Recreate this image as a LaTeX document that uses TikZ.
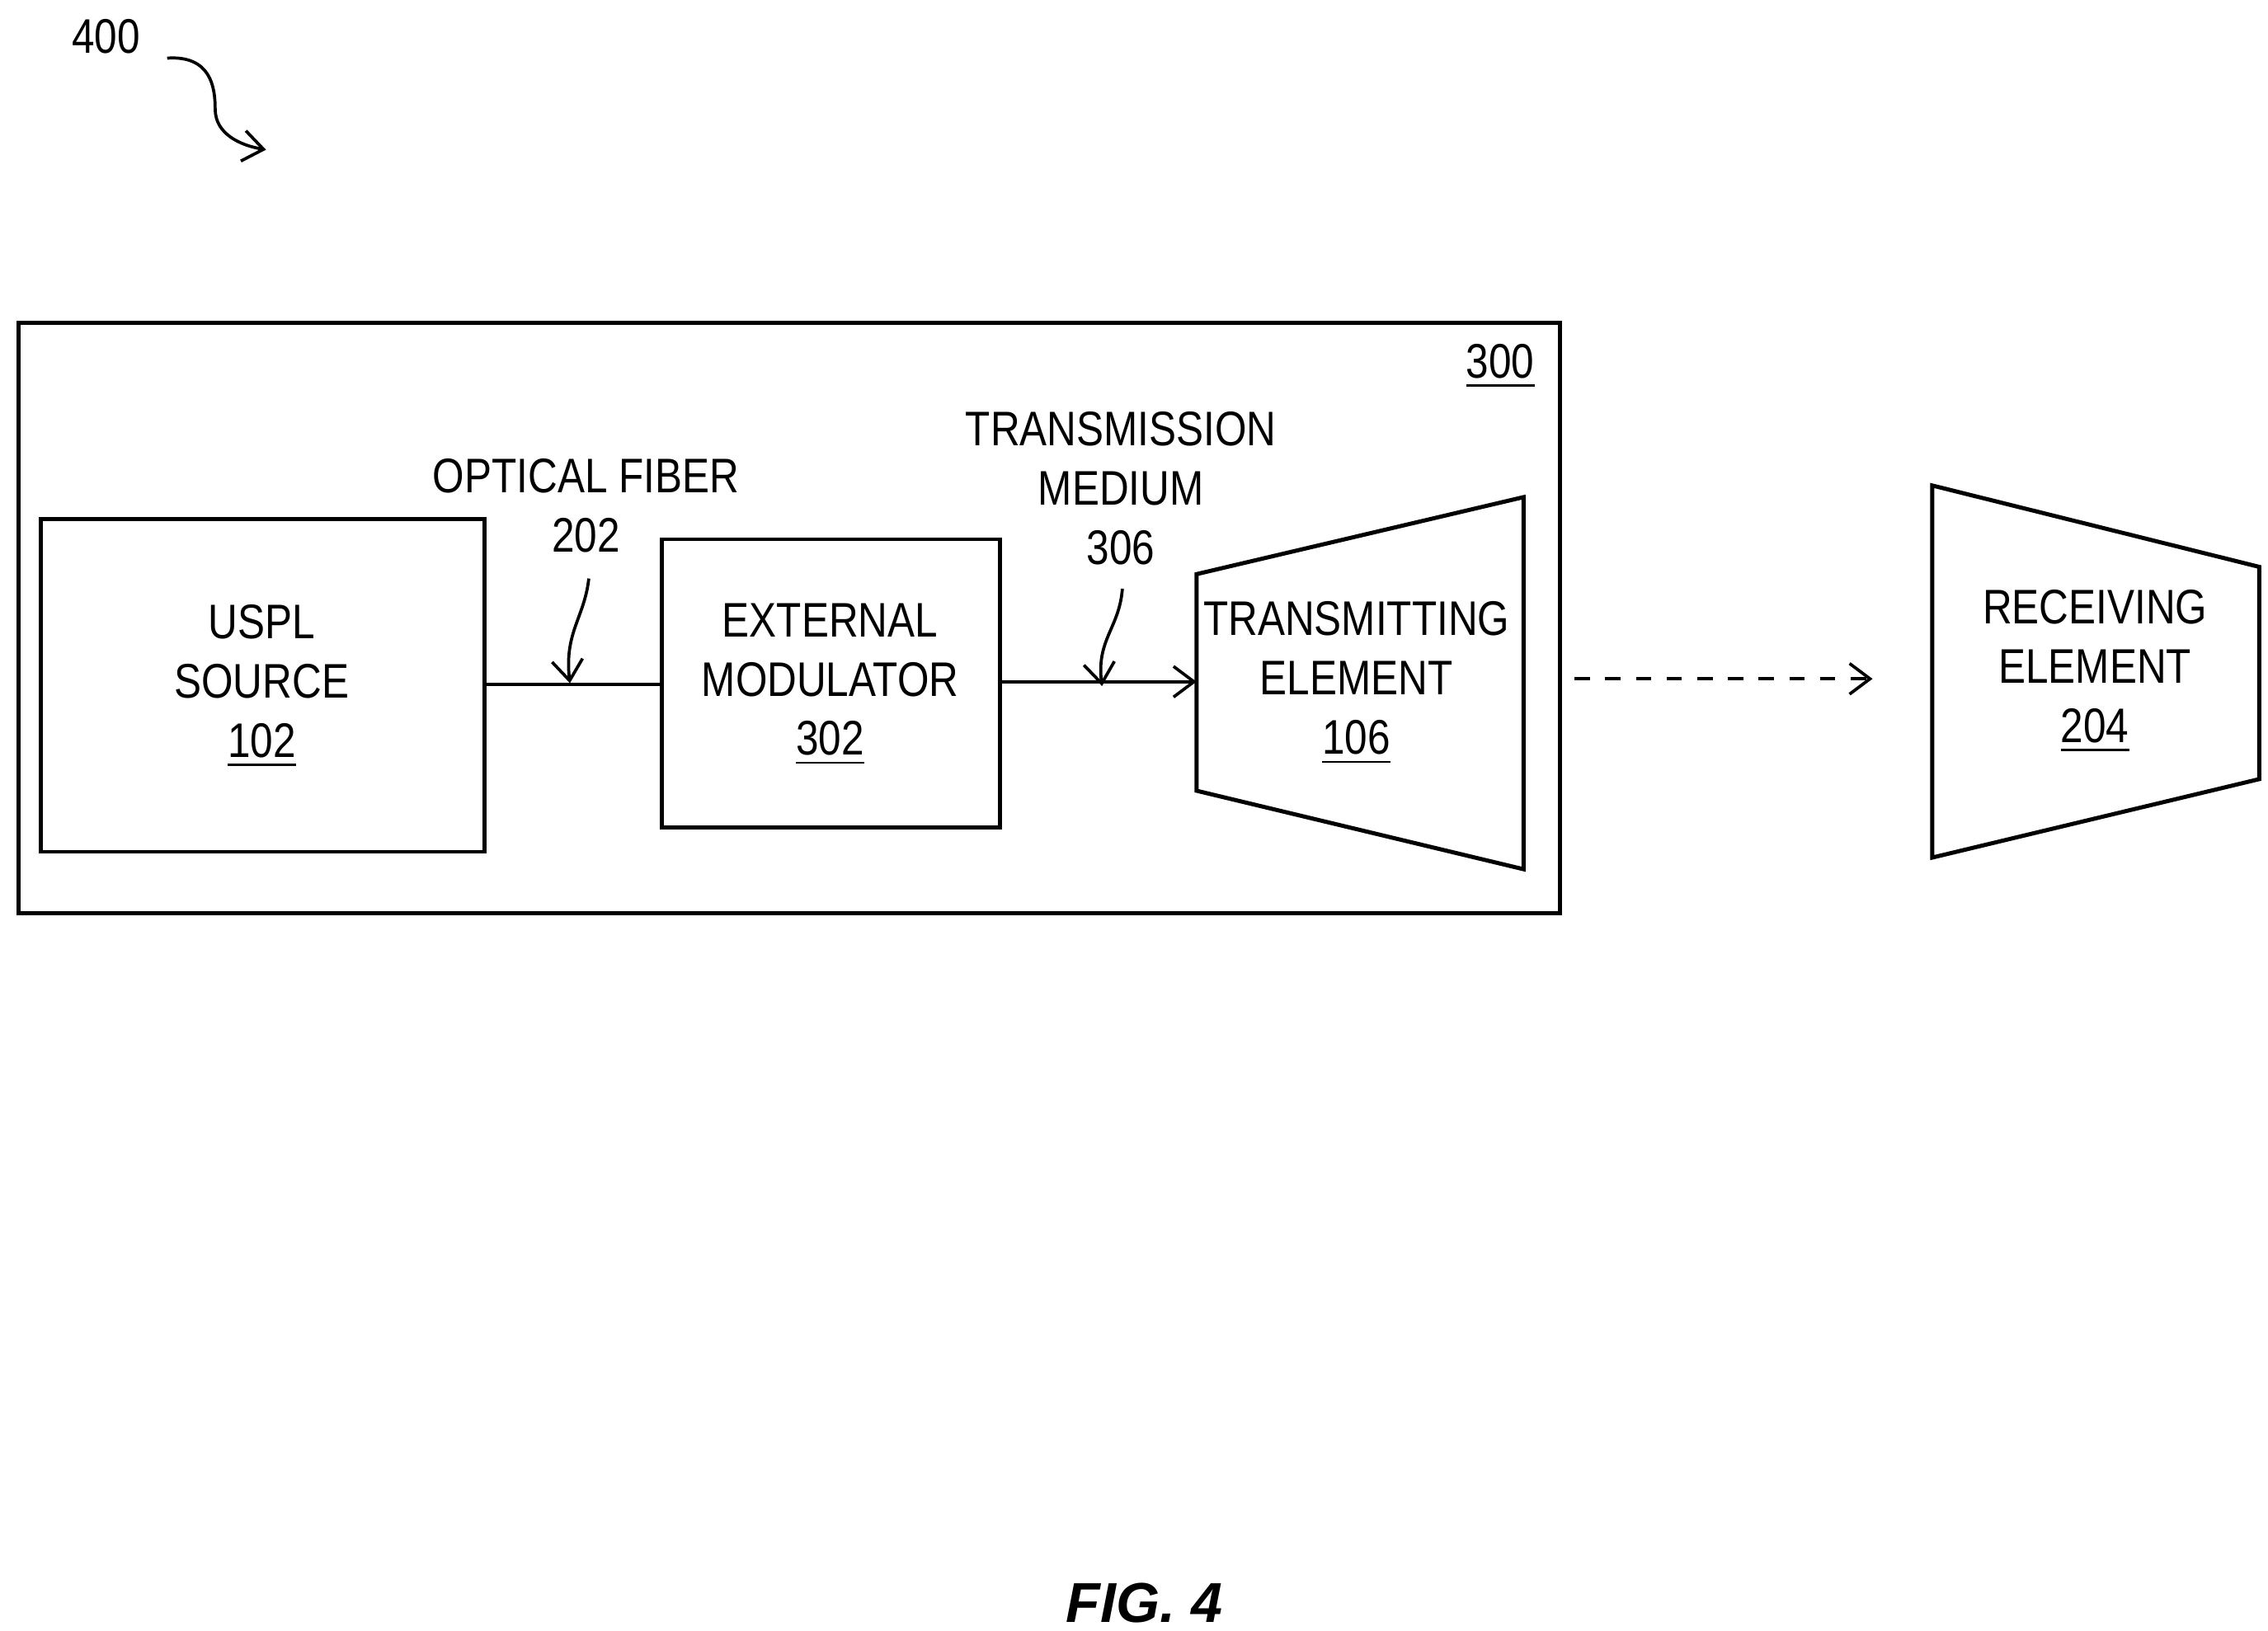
\documentclass[tikz,border=0pt]{standalone}
\usepackage{fontspec}
\setmainfont{Liberation Sans}
\newfontfamily\narrowfont[FakeStretch=0.84]{Liberation Sans}
\usetikzlibrary{arrows.meta}
\begin{document}
\begin{tikzpicture}[x=0.01cm,y=-0.01cm]
  \tikzset{BoxStyle/.style = {
    draw          = black,
    line width    = 0.8pt,
    inner sep     = 0pt
    }
  }
  \tikzset{TextStyle/.style = {
    font          = \narrowfont\fontsize{9.5}{11.6}\selectfont,
    align         = center,
    inner sep     = 1pt
    }
  }
  \tikzset{LinkStyle/.style = {
    draw          = black,
    line width    = 0.6pt
    }
  }
  \tikzset{PointerStyle/.style = {
    draw          = black,
    line width    = 0.6pt,
    -{Straight Barb[length=4pt,width=6pt]}
    }
  }
  \useasboundingbox (0,0) rectangle (1560,1122);

  % outer system 300
  \draw[BoxStyle] (13,222) rectangle (1073,628);
  \node[TextStyle](L300) at (1032,252) {\underline{300}};

  % blocks
  \draw[BoxStyle] (28,357) rectangle (333,586);
  \coordinate (src-e) at (333,471);
  \node[TextStyle](srcT) at (180,472) {USPL\\SOURCE\\\underline{102}};

  \draw[BoxStyle] (455,371) rectangle (688,569);
  \coordinate (mod-w) at (455,471);
  \coordinate (mod-e) at (688,469);
  \node[TextStyle](modT) at (571,471) {EXTERNAL\\MODULATOR\\\underline{302}};

  \coordinate (te-w) at (823,469);
  \draw[BoxStyle] (823,395) -- (1048,342) -- (1048,598) -- (823,544) -- cycle;
  \node[TextStyle](teT) at (933,470) {TRANSMITTING\\ELEMENT\\\underline{106}};

  \draw[BoxStyle] (1329,334) -- (1554,390) -- (1554,536) -- (1329,590) -- cycle;
  \node[TextStyle](reT) at (1441,462) {RECEIVING\\ELEMENT\\\underline{204}};

  % links
  \draw[LinkStyle] (src-e) -- (mod-w);
  \draw[PointerStyle] (mod-e) -- (te-w);
  \coordinate (d1) at (1083,467);
  \coordinate (d2) at (1288,467);
  \draw[PointerStyle, dashed] (d1) -- (d2);

  % labels with pointers
  \node[TextStyle](fibT) at (403,348) {OPTICAL FIBER\\202};
  \coordinate (fibP) at (392,470);
  \draw[PointerStyle] (405,398) .. controls (402,425) and (388,435) .. (fibP);
  \node[TextStyle](medT) at (771,336) {TRANSMISSION\\MEDIUM\\306};
  \coordinate (medP) at (758,472);
  \draw[PointerStyle] (772,405) .. controls (770,432) and (754,440) .. (medP);

  \node[TextStyle](L400) at (73,25) {400};
  \coordinate (fig) at (183,103);
  \draw[PointerStyle] (115,40) .. controls (145,38) and (148,60) .. (148,75) .. controls (148,92) and (165,100) .. (fig);

  \node[font=\fontsize{11}{13}\selectfont\bfseries\itshape](cap) at (787,1103) {FIG. 4};
\end{tikzpicture}
\end{document}
